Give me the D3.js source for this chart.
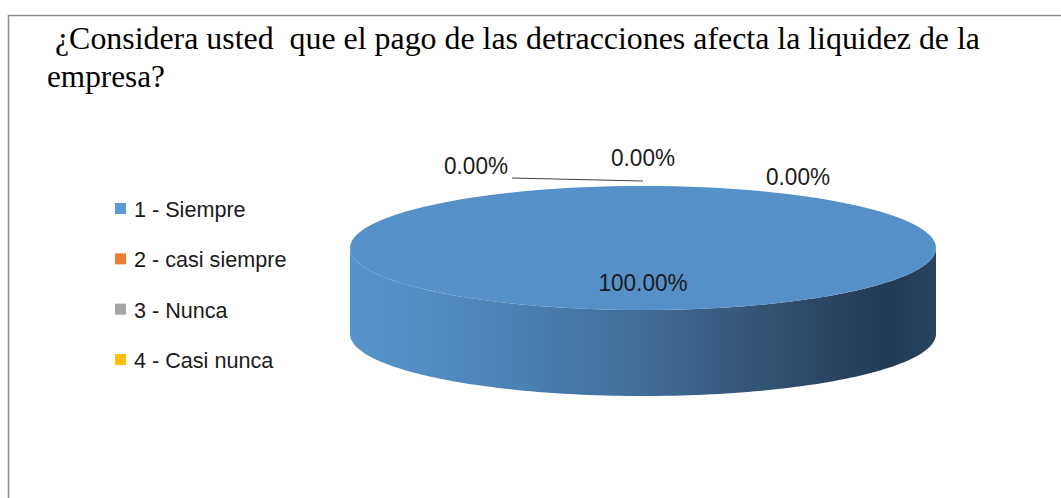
<!DOCTYPE html>
<html><head><meta charset="utf-8">
<script src="https://cdn.jsdelivr.net/npm/d3@7"></script>
<style>html,body{margin:0;padding:0;background:#fff;}svg{display:block;}</style>
</head><body><svg id="c" width="1061" height="498"></svg>
<script>
const categories = ["1 - Siempre", "2 - casi siempre", "3 - Nunca", "4 - Casi nunca"];
const values = [100, 0, 0, 0];
const colors = ["#5b9bd5", "#ed7d31", "#a5a5a5", "#ffc000"];
const titleLines = ["\u00a0¿Considera usted\u00a0\u00a0que el pago de las detracciones afecta la liquidez de la", "empresa?"];
const titleWidths = [933, 118];

const svg = d3.select("#c");
// frame
svg.append("path").attr("d", "M8.5,498 V15.5 H1061").attr("fill", "none").attr("stroke", "#8c8c8c").attr("stroke-width", 1.5);

// title
svg.selectAll("text.title").data(titleLines).join("text").attr("class", "title")
  .attr("x", 47).attr("y", (d, i) => 49 + i * 38)
  .attr("font-family", "Liberation Serif, Times New Roman, serif").attr("font-size", 31)
  .attr("textLength", (d, i) => titleWidths[i]).attr("lengthAdjust", "spacingAndGlyphs")
  .attr("fill", "#000").text(d => d);

// legend
const lg = svg.append("g");
const ly = d3.scalePoint().domain(categories).range([209, 360]);
lg.selectAll("rect").data(categories).join("rect")
  .attr("x", 115).attr("y", d => ly(d) - 6).attr("width", 11).attr("height", 11)
  .attr("fill", (d, i) => colors[i]);
lg.selectAll("text").data(categories).join("text")
  .attr("transform", d => `translate(134,${ly(d)}) scale(0.96,1)`)
  .attr("dy", "0.36em")
  .attr("font-family", "Liberation Sans, Arial, sans-serif").attr("font-size", 22.5)
  .attr("fill", "#1a1a1a").text(d => d);

// 3D pie
const cx = 643, cy = 248, rx = 293, ry = 62, depth = 86;
const pie = d3.pie().sort(null).value(d => d);
const arcs = pie(values);
const defs = svg.append("defs");
const grad = defs.append("linearGradient").attr("id", "side").attr("gradientUnits", "userSpaceOnUse")
  .attr("x1", cx - rx).attr("x2", cx + rx).attr("y1", 0).attr("y2", 0);
[[0, "#5693cb"], [0.08, "#5490c8"], [0.3, "#4a80b3"], [0.55, "#3e6790"], [0.8, "#2c4764"], [0.92, "#223a53"], [1, "#2a4460"]]
  .forEach(s => grad.append("stop").attr("offset", s[0]).attr("stop-color", s[1]));

const pt = (a, dy = 0) => [cx + rx * Math.sin(a), cy - ry * Math.cos(a) + dy];
function topPath(d) {
  const n = 120, pts = [];
  for (let i = 0; i <= n; i++) pts.push(pt(d.startAngle + (d.endAngle - d.startAngle) * i / n));
  if (d.endAngle - d.startAngle >= 2 * Math.PI - 1e-6) return d3.line()(pts) + "Z";
  return "M" + cx + "," + cy + "L" + d3.line()(pts).slice(1) + "Z";
}
function sidePath(d) {
  const a0 = Math.max(d.startAngle, Math.PI / 2), a1 = Math.min(d.endAngle, 3 * Math.PI / 2);
  if (a1 <= a0) return null;
  const n = 120, top = [], bot = [];
  for (let i = 0; i <= n; i++) {
    const a = a0 + (a1 - a0) * i / n;
    top.push(pt(a)); bot.push(pt(a, depth));
  }
  return d3.line()(top.concat(bot.reverse())) + "Z";
}
const pg = svg.append("g");
pg.selectAll("path.side").data(arcs.filter(d => d.value > 0)).join("path").attr("class", "side")
  .attr("d", sidePath).attr("fill", "url(#side)");
pg.selectAll("path.top").data(arcs.filter(d => d.value > 0)).join("path").attr("class", "top")
  .attr("d", topPath).attr("fill", "#5590c8");

// labels
const fmt = d3.format(".2%");
const total = d3.sum(values);
const labelOffsets = [[0, 34], [-167, -21], [0, -29], [155, -10]];
svg.selectAll("text.lbl").data(arcs).join("text").attr("class", "lbl")
  .attr("transform", (d, i) => {
    const x = (d.value > 0 ? cx : pt(d.startAngle)[0]) + labelOffsets[i][0];
    const y = (d.value > 0 ? cy : pt(d.startAngle)[1]) + labelOffsets[i][1];
    return `translate(${x},${y}) scale(0.94,1)`;
  })
  .attr("text-anchor", "middle").attr("dy", "0.36em")
  .attr("font-family", "Liberation Sans, Arial, sans-serif").attr("font-size", 24)
  .attr("fill", "#1a1a1a").text(d => fmt(d.value / total));
// leader line for first zero slice
const z = arcs[1], zp = pt(z.startAngle);
svg.append("line").attr("x1", zp[0] - 131).attr("y1", zp[1] - 8)
  .attr("x2", zp[0]).attr("y2", zp[1] - 5).attr("stroke", "#404040").attr("stroke-width", 1);
</script></body></html>
